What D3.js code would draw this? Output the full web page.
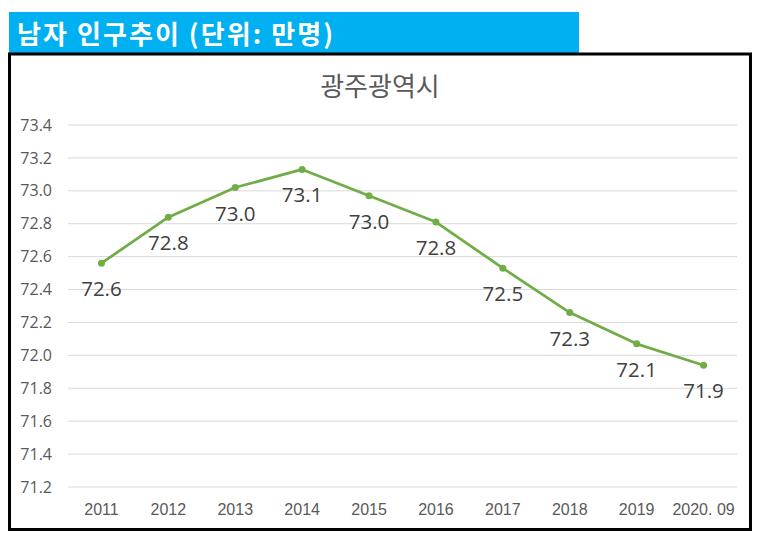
<!DOCTYPE html>
<html>
<head>
<meta charset="utf-8">
<script src="https://cdn.jsdelivr.net/npm/d3@7"></script>
<style>
  body { margin: 0; background: #fff; }
  svg { display: block; }
</style>
</head>
<body>
<svg id="chart"></svg>
<script>
// data
const years = ["2011", "2012", "2013", "2014", "2015", "2016", "2017", "2018", "2019", "2020. 09"];
const male = [72.56, 72.84, 73.02, 73.13, 72.97, 72.81, 72.53, 72.26, 72.07, 71.94];
const yTicks = [71.2, 71.4, 71.6, 71.8, 72.0, 72.2, 72.4, 72.6, 72.8, 73.0, 73.2, 73.4];

const headerText = "남자 인구추이 (단위: 만명)";
const chartTitle = "광주광역시";

const width = 759, height = 536;

const svg = d3.select("#chart")
    .attr("width", width)
    .attr("height", height);

// blue header strip
svg.append("rect")
    .attr("x", 9)
    .attr("y", 12)
    .attr("width", 570)
    .attr("height", 41)
    .attr("fill", "#00b0f0");

svg.append("text")
    .attr("x", 17)
    .attr("y", 44)
    .attr("textLength", 316)
    .attr("lengthAdjust", "spacing")
    .attr("font-family", "'Noto Sans CJK KR', 'Noto Sans', sans-serif")
    .attr("font-weight", "bold")
    .attr("font-size", 26)
    .attr("fill", "#fff")
    .text(headerText);

// chart frame
svg.append("rect")
    .attr("x", 9.5)
    .attr("y", 54)
    .attr("width", 741)
    .attr("height", 475.5)
    .attr("fill", "#fff")
    .attr("stroke", "#000")
    .attr("stroke-width", 3);

svg.append("text")
    .attr("x", 380)
    .attr("y", 96)
    .attr("text-anchor", "middle")
    .attr("font-family", "'Noto Sans CJK KR', sans-serif")
    .attr("font-size", 26)
    .attr("fill", "#595959")
    .text(chartTitle);

const x = d3.scaleBand()
    .domain(years)
    .range([68, 737]);

const y = d3.scaleLinear()
    .domain([71.2, 73.4])
    .range([487, 125]);

// gridlines
svg.append("g")
    .selectAll("line")
    .data(yTicks)
    .enter()
    .append("line")
    .attr("x1", 68)
    .attr("x2", 737)
    .attr("y1", d => y(d))
    .attr("y2", d => y(d))
    .attr("stroke", "#d9d9d9")
    .attr("stroke-width", 1);

// y axis labels
const yAxis = svg.append("g")
    .attr("transform", "translate(52,0)")
    .call(d3.axisLeft(y).tickValues(yTicks).tickFormat(d3.format(".1f")).tickSize(0).tickPadding(0));
yAxis.select(".domain").remove();
yAxis.selectAll("text")
    .attr("font-family", "'Open Sans', sans-serif")
    .attr("font-size", 16)
    .attr("fill", "#595959");

// x axis labels
const xAxis = svg.append("g")
    .attr("transform", "translate(0,500)")
    .call(d3.axisBottom(x).tickSize(0).tickPadding(4));
xAxis.select(".domain").remove();
xAxis.selectAll("text")
    .attr("font-family", "'Liberation Sans', sans-serif")
    .attr("font-size", 16)
    .attr("fill", "#595959");

const cx = (d, i) => x(years[i]) + x.bandwidth() / 2;

const line = d3.line()
    .x(cx)
    .y(d => y(d));

svg.append("path")
    .datum(male)
    .attr("d", line)
    .attr("fill", "none")
    .attr("stroke", "#70ad47")
    .attr("stroke-width", 2.75)
    .attr("stroke-linejoin", "round");

svg.append("g")
    .selectAll("circle")
    .data(male)
    .enter()
    .append("circle")
    .attr("cx", cx)
    .attr("cy", d => y(d))
    .attr("r", 3.5)
    .attr("fill", "#70ad47");

// value labels under each point
svg.append("g")
    .selectAll("text")
    .data(male)
    .enter()
    .append("text")
    .attr("x", cx)
    .attr("y", d => y(d) + 33)
    .attr("text-anchor", "middle")
    .attr("font-family", "'Open Sans', sans-serif")
    .attr("font-size", 20.5)
    .attr("fill", "#404040")
    .text(d => d3.format(".1f")(d));
</script>
</body>
</html>
